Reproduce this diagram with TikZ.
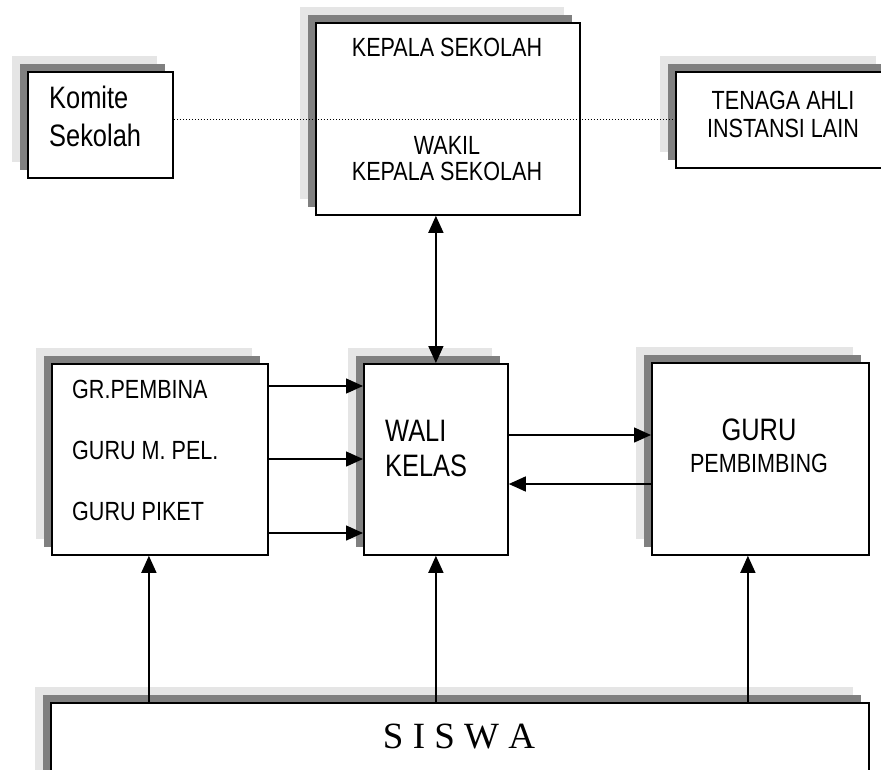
\documentclass[tikz,border=0pt]{standalone}
\usepackage{fontspec}
\setmainfont{Liberation Serif}
\newfontfamily\narrowsans[FakeStretch=0.82]{Liberation Sans}
\usetikzlibrary{arrows.meta}
\definecolor{shadelight}{gray}{0.9}
\definecolor{shadedark}{gray}{0.5}

\begin{document}
\begin{tikzpicture}[x=1pt, y=-1pt,
	box/.style={draw, line width=1.8pt, fill=white, inner sep=0pt, anchor=north west,
		preaction={fill=shadelight, draw=none, transform canvas={shift={(-16pt,16pt)}}},
		preaction={fill=shadedark, draw=none, transform canvas={shift={(-8pt,8pt)}}}},
	small/.style={font=\narrowsans\fontsize{26.3}{30}\selectfont, inner sep=0pt},
	big/.style={font=\narrowsans\fontsize{31}{36}\selectfont, inner sep=0pt},
	arr/.style={-{Triangle[length=17pt,width=15pt]}, line width=1.5pt},
	arrs/.style={{Triangle[length=17pt,width=15pt]}-{Triangle[length=17pt,width=15pt]}, line width=1.5pt}]
	\clip (0,0) rectangle (881,770);
	\node[box, minimum width=145pt, minimum height=106pt] (komite) at (27,71) {};
	\node[box, minimum width=264pt, minimum height=192pt] (kepala) at (315,22) {};
	\node[box, minimum width=216pt, minimum height=96pt] (tenaga) at (675,71) {};
	\node[box, minimum width=216pt, minimum height=191pt] (mid) at (51,363) {};
	\node[box, minimum width=144pt, minimum height=191pt] (wali) at (363,363) {};
	\node[box, minimum width=217pt, minimum height=192pt] (guru) at (651,362) {};
	\node[box, minimum width=818pt, minimum height=120pt] (siswa) at (50,702) {};

	\node[big, anchor=base west] (komite1) at (49,109) {Komite};
	\node[big, anchor=base west] (komite2) at (49,147) {Sekolah};
	\node[small, anchor=base] (kepala1) at (447,57) {KEPALA SEKOLAH};
	\node[small, anchor=base] (kepala2) at (447,155) {WAKIL};
	\node[small, anchor=base] (kepala3) at (447,181) {KEPALA SEKOLAH};
	\node[small, anchor=base] (tenaga1) at (783,110) {TENAGA AHLI};
	\node[small, anchor=base] (tenaga2) at (783,138) {INSTANSI LAIN};
	\node[small, anchor=base west] (mid1) at (72,398) {GR.PEMBINA};
	\node[small, anchor=base west] (mid2) at (72,459) {GURU M. PEL.};
	\node[small, anchor=base west] (mid3) at (72,520) {GURU PIKET};
	\node[big, anchor=base west] (wali1) at (385,441) {WALI};
	\node[big, anchor=base west] (wali2) at (385,476) {KELAS};
	\node[big, anchor=base] (guru1) at (759,440) {GURU};
	\node[small, anchor=base] (guru2) at (759,472) {PEMBIMBING};
	\node[font=\fontsize{37}{40}\selectfont, inner sep=0pt, anchor=base] (siswa1) at (459,748) {S I S W A};

	\draw[line width=1.2pt, dash pattern=on 1.2pt off 1.8pt] (komite.east |- tenaga.west) -- (tenaga.west);
	\draw[arrs] (wali.north) -- (wali.north |- kepala.south);

	\coordinate (m1) at ([yshift=-23pt]mid.north east);
	\coordinate (m2) at ([yshift=-96pt]mid.north east);
	\coordinate (m3) at ([yshift=-170pt]mid.north east);
	\draw[arr] (m1) -- (m1 -| wali.west);
	\draw[arr] (m2) -- (m2 -| wali.west);
	\draw[arr] (m3) -- (m3 -| wali.west);

	\coordinate (w1) at ([yshift=-72pt]wali.north east);
	\coordinate (w2) at ([yshift=-121pt]wali.north east);
	\draw[arr] (w1) -- (w1 -| guru.west);
	\draw[arr] (w2 -| guru.west) -- (w2);

	\coordinate (s1) at ([xshift=-11pt]mid.south);
	\coordinate (s3) at ([xshift=-12.5pt]guru.south);
	\draw[arr] (s1 |- siswa.north) -- (s1);
	\draw[arr] (wali.south |- siswa.north) -- (wali.south);
	\draw[arr] (s3 |- siswa.north) -- (s3);
\end{tikzpicture}
\end{document}
